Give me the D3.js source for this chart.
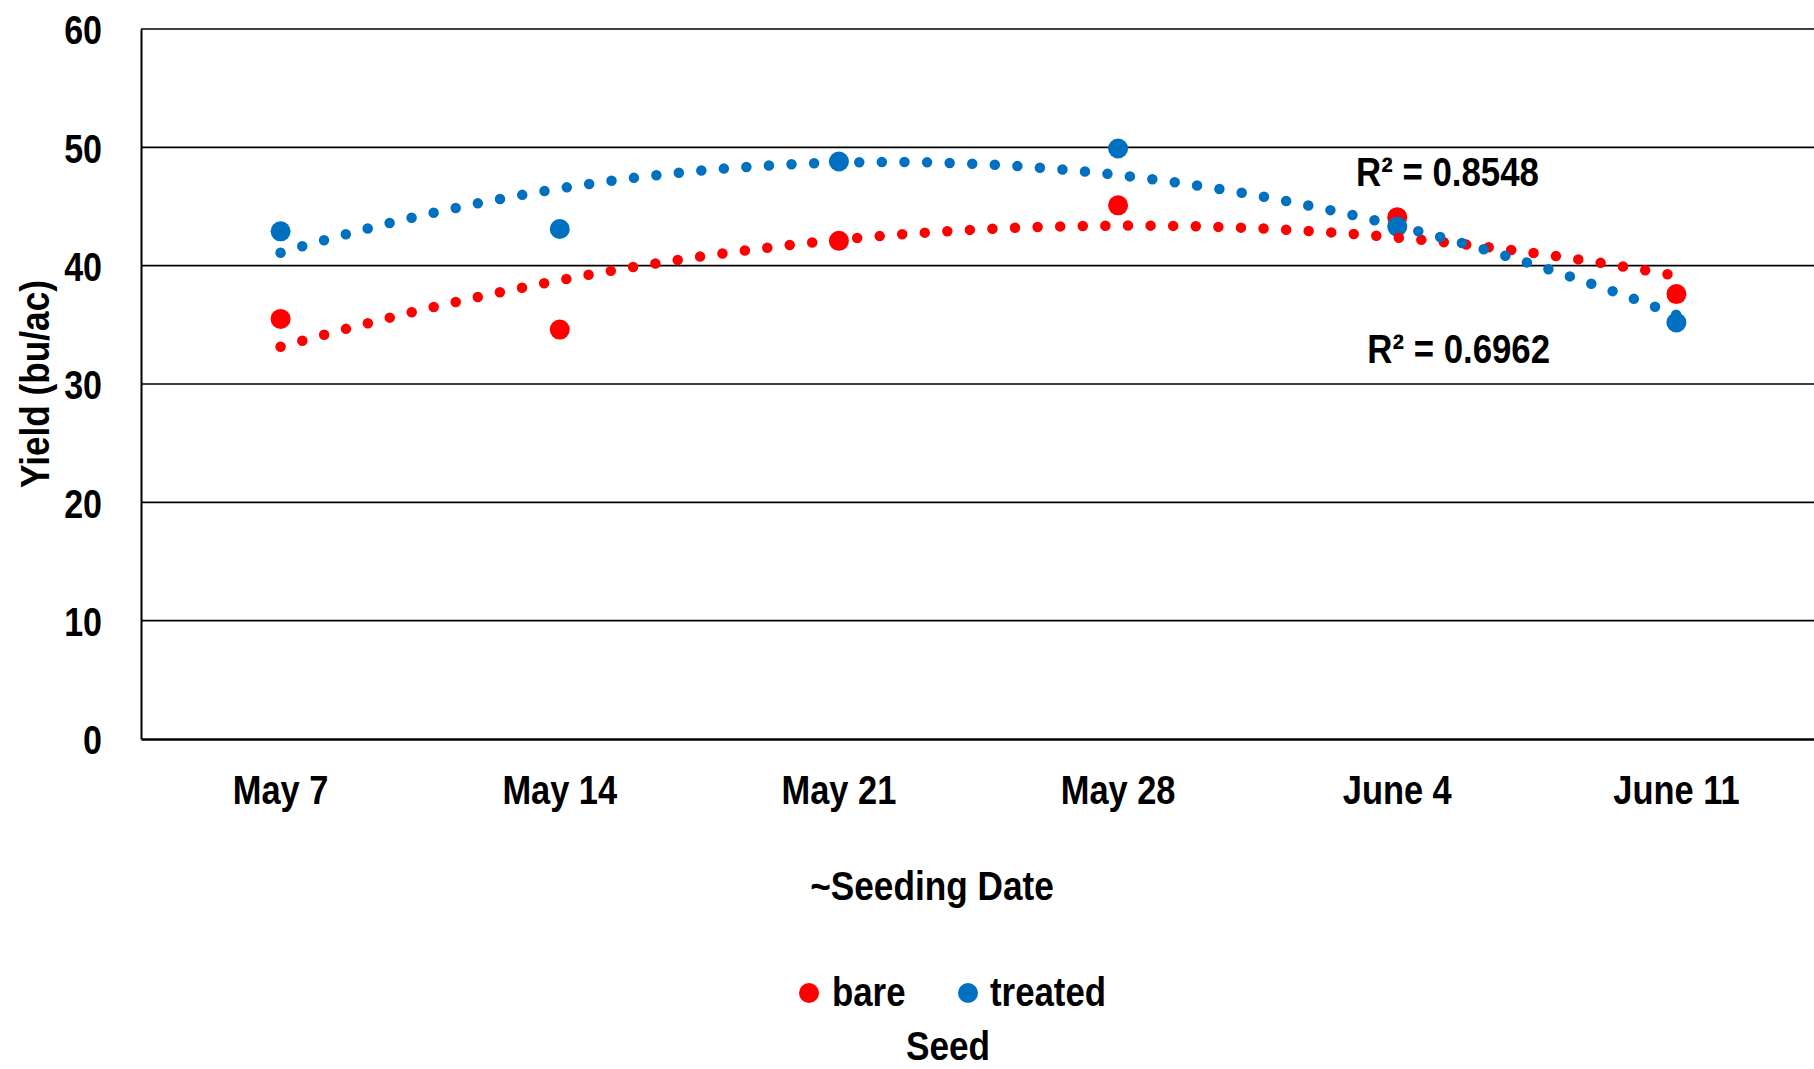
<!DOCTYPE html>
<html>
<head>
<meta charset="utf-8">
<script src="https://cdn.jsdelivr.net/npm/d3@7"></script>
<style>
  html, body { margin: 0; padding: 0; background: #fff; }
  svg { display: block; }
  text { font-family: "Liberation Sans Narrow", "Arial Narrow", "Liberation Sans", Arial, sans-serif; font-weight: bold; fill: #000; }
</style>
</head>
<body>
<svg id="chart" width="1814" height="1069"></svg>
<script>
const categories = ["May 7", "May 14", "May 21", "May 28", "June 4", "June 11"];
const bare = [35.5, 34.6, 42.1, 45.1, 44.1, 37.6];
const treated = [42.9, 43.1, 48.8, 49.9, 43.3, 35.2];
const yTicks = [0, 10, 20, 30, 40, 50, 60];
const seriesNames = ["bare", "treated"];
const r2Labels = ["R\u00B2 = 0.8548", "R\u00B2 = 0.6962"];
const colors = { bare: "#FF0000", treated: "#0070C0" };

const W = 1814, H = 1069;
const m = { left: 141, top: 29, right: 1816, bottom: 739 };
const svg = d3.select("#chart");

function condense(sel, k) {
  sel.each(function () {
    const L = this.getComputedTextLength();
    d3.select(this).attr("textLength", L * k).attr("lengthAdjust", "spacingAndGlyphs");
  });
  return sel;
}

const x = d3.scaleBand().domain(categories).range([m.left, m.right]).paddingInner(0).paddingOuter(0);
const xi = d3.scaleLinear().domain([0.5, categories.length + 0.5]).range([m.left, m.right]);
const y = d3.scaleLinear().domain([0, 60]).range([m.bottom, m.top]);

// gridlines
svg.append("g").selectAll("line").data(yTicks.filter(d => d > 0)).join("line")
  .attr("x1", m.left).attr("x2", m.right)
  .attr("y1", d => y(d)).attr("y2", d => y(d))
  .attr("stroke", "#000").attr("stroke-width", 1.6);

// y axis
const yAxis = d3.axisLeft(y).tickValues(yTicks).tickSize(0).tickPadding(39).tickFormat(d3.format("d"));
const gy = svg.append("g").attr("transform", `translate(${m.left},0)`).call(yAxis);
gy.select(".domain").attr("stroke", "#000").attr("stroke-width", 2);
gy.selectAll("text").style("font-size", "41px").attr("dy", "0.36em");
condense(gy.selectAll("text"), 0.83);

// x axis
const xAxis = d3.axisBottom(x).tickSize(0).tickPadding(0);
const gx = svg.append("g").attr("transform", `translate(0,${m.bottom})`).call(xAxis);
gx.select(".domain").attr("stroke", "#000").attr("stroke-width", 2.5);
gx.selectAll("text").style("font-size", "40px").attr("dy", null).attr("y", 65);
condense(gx.selectAll("text"), 0.86);

// axis titles
condense(svg.append("text").attr("x", 932).attr("y", 900).attr("text-anchor", "middle")
  .style("font-size", "40px").text("~Seeding Date"), 0.88);
condense(svg.append("text").attr("transform", `translate(49,${(m.top + m.bottom) / 2}) rotate(-90)`)
  .attr("text-anchor", "middle").style("font-size", "40px").text("Yield (bu/ac)"), 0.88);

// markers
const series = [{ name: "bare", values: bare }, { name: "treated", values: treated }];
series.forEach(s => {
  svg.append("g").selectAll("circle").data(s.values).join("circle")
    .attr("cx", (d, i) => x(categories[i]) + x.bandwidth() / 2)
    .attr("cy", d => y(d))
    .attr("r", 10)
    .attr("fill", colors[s.name]);
});

// quadratic least-squares trendlines
function polyFit2(vals) {
  const xs = vals.map((_, i) => i + 1);
  let S = [0, 0, 0, 0, 0], T = [0, 0, 0];
  xs.forEach((xv, i) => {
    for (let k = 0; k < 5; k++) S[k] += Math.pow(xv, k);
    for (let k = 0; k < 3; k++) T[k] += Math.pow(xv, k) * vals[i];
  });
  const A = [[S[0], S[1], S[2], T[0]], [S[1], S[2], S[3], T[1]], [S[2], S[3], S[4], T[2]]];
  for (let c = 0; c < 3; c++) {
    for (let r = c + 1; r < 3; r++) {
      const f = A[r][c] / A[c][c];
      for (let k = c; k < 4; k++) A[r][k] -= f * A[c][k];
    }
  }
  const coef = [0, 0, 0];
  for (let r = 2; r >= 0; r--) {
    let s = A[r][3];
    for (let k = r + 1; k < 3; k++) s -= A[r][k] * coef[k];
    coef[r] = s / A[r][r];
  }
  return t => coef[0] + coef[1] * t + coef[2] * t * t;
}

const line = d3.line().x(d => xi(d[0])).y(d => y(d[1])).curve(d3.curveLinear);
series.forEach(s => {
  const f = polyFit2(s.values);
  const pts = d3.range(0, 501).map(k => { const t = 1 + 5 * k / 500; return [t, f(t)]; });
  svg.append("path").datum(pts).attr("d", line)
    .attr("fill", "none").attr("stroke", colors[s.name])
    .attr("stroke-width", 10.5).attr("stroke-linecap", "round")
    .attr("stroke-dasharray", "0 22.6");
});

// R² labels
condense(svg.append("text").attr("x", xi(5.18)).attr("y", y(46.7)).attr("text-anchor", "middle")
  .style("font-size", "40px").text(r2Labels[0]), 0.87);
condense(svg.append("text").attr("x", xi(5.22)).attr("y", y(31.8)).attr("text-anchor", "middle")
  .style("font-size", "40px").text(r2Labels[1]), 0.87);

// legend
const legendPos = [{ cx: 809, tx: 832 }, { cx: 968, tx: 990 }];
const lg = svg.append("g");
seriesNames.forEach((n, i) => {
  lg.append("circle").attr("cx", legendPos[i].cx).attr("cy", 993).attr("r", 10).attr("fill", colors[n]);
  condense(lg.append("text").attr("x", legendPos[i].tx).attr("y", 1006).style("font-size", "40px").text(n), 0.87);
});
condense(svg.append("text").attr("x", 948).attr("y", 1060).attr("text-anchor", "middle")
  .style("font-size", "40px").text("Seed"), 0.88);
</script>
</body>
</html>
